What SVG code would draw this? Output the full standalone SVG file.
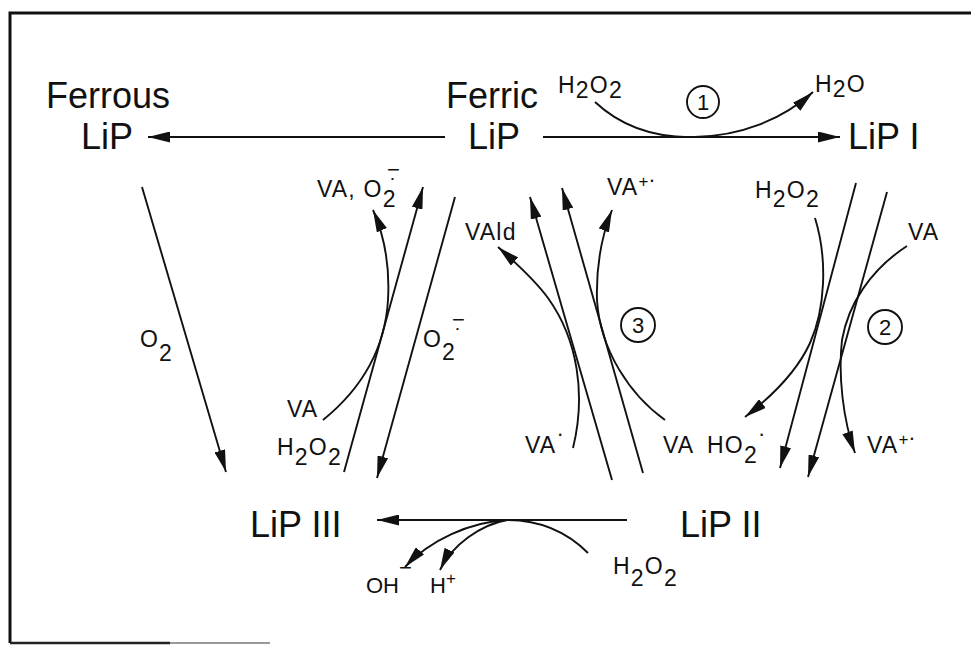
<svg xmlns="http://www.w3.org/2000/svg" width="971" height="645" viewBox="0 0 971 645">
<defs>
<style>
text{font-family:"Liberation Sans",Arial,sans-serif;fill:#111}
.big{font-size:36px}
.sm{font-size:23px;letter-spacing:1.2px}
.sup{font-size:17px;letter-spacing:0}
.rad{font-size:22px;letter-spacing:0}
.c{stroke:#111;stroke-width:1.9;fill:none}
.num{font-size:22px;text-anchor:middle}
</style>
<marker id="ah" viewBox="0 0 22 11" refX="22" refY="5.5" markerWidth="22" markerHeight="11" markerUnits="userSpaceOnUse" orient="auto"><path d="M0,0 L22,5.5 L0,11 z" fill="#111"/></marker>
</defs>
<rect width="971" height="645" fill="#fff"/>
<g id="frame" fill="none">
<path d="M10,643 V13 H971" stroke="#111" stroke-width="3"/>
<path d="M10,643 H170" stroke="#222" stroke-width="2.5"/>
<path d="M170,643 H270" stroke="#999" stroke-width="2"/>
</g>
<g id="ferrous"><text class="big" x="108" y="108" text-anchor="middle">Ferrous</text><text class="big" x="107" y="149" text-anchor="middle">LiP</text></g>
<g id="ferric"><text class="big" x="492" y="108" text-anchor="middle">Ferric</text><text class="big" x="494" y="149" text-anchor="middle">LiP</text></g>
<g id="lip1"><text class="big" x="848" y="149">LiP I</text></g>
<g id="lip2"><text class="big" x="680" y="537">LiP II</text></g>
<g id="lip3"><text class="big" x="250" y="537">LiP III</text></g>
<g id="connectors">
<line class="c" x1="445" y1="137" x2="148" y2="137" marker-end="url(#ah)" stroke-width="2.1"/>
<line class="c" x1="543" y1="137" x2="840" y2="137" marker-end="url(#ah)" stroke-width="2.1"/>
<path class="c" d="M595,102 C625,130 660,138 695,137 C740,136 782,120 813,92" marker-end="url(#ah)"/>
<line class="c" x1="142" y1="187" x2="226" y2="472" marker-end="url(#ah)"/>
<line class="c" x1="344" y1="472" x2="423" y2="187" marker-end="url(#ah)"/>
<line class="c" x1="455" y1="197" x2="377" y2="478" marker-end="url(#ah)"/>
<path class="c" d="M323,420 C360,390 385,350 388,300 C390,265 384,235 373,210" marker-end="url(#ah)"/>
<line class="c" x1="612" y1="480" x2="530" y2="197" marker-end="url(#ah)"/>
<line class="c" x1="643" y1="473" x2="562" y2="188" marker-end="url(#ah)"/>
<path class="c" d="M573,448 C586,395 578,340 548,298 C535,280 515,262 498,247" marker-end="url(#ah)"/>
<path class="c" d="M665,420 C630,395 600,350 597,300 C596,265 602,235 612,210" marker-end="url(#ah)"/>
<line class="c" x1="856" y1="183" x2="780" y2="468" marker-end="url(#ah)"/>
<line class="c" x1="887" y1="192" x2="808" y2="477" marker-end="url(#ah)"/>
<path class="c" d="M815,218 C828,260 825,310 810,343 C800,365 780,390 745,417" marker-end="url(#ah)"/>
<path class="c" d="M907,246 C870,270 848,305 842,340 C838,375 843,420 855,453" marker-end="url(#ah)"/>
<line class="c" x1="627" y1="520" x2="377" y2="520" marker-end="url(#ah)" stroke-width="2.1"/>
<path class="c" d="M588,553 C570,535 545,520 507,520"/>
<path class="c" d="M507,520 C470,522 430,540 405,567" marker-end="url(#ah)"/>
<path class="c" d="M507,520 C480,525 452,545 440,570" marker-end="url(#ah)"/>
</g>
<g id="labels">
<text class="sm" x="558" y="93">H<tspan dy="5">2</tspan><tspan dy="-5">O</tspan><tspan dy="5">2</tspan></text>
<text class="sm" x="815" y="92">H<tspan dy="5">2</tspan><tspan dy="-5">O</tspan></text>
<g id="n1"><circle cx="703" cy="102" r="16" class="c" stroke-width="1.6"/><text class="num" x="703" y="110">1</text></g>
<text class="sm" x="140" y="347">O<tspan dy="14">2</tspan></text>
<text class="sm" x="317" y="197">VA, O<tspan dy="10">2</tspan><tspan class="rad" x="387" y="177">−̣</tspan></text>
<text class="sm" x="423" y="347">O<tspan dy="13">2</tspan><tspan class="rad" x="452" y="327">−̣</tspan></text>
<text class="sm" x="287" y="417">VA</text>
<text class="sm" x="277" y="455">H<tspan dy="10">2</tspan><tspan dy="-10">O</tspan><tspan dy="10">2</tspan></text>
<text class="sm" x="607" y="195">VA<tspan class="sup" dy="-8">+</tspan><tspan class="rad">·</tspan></text>
<text class="sm" x="465" y="240">VAld</text>
<g id="n3"><circle cx="638" cy="325" r="17" class="c" stroke-width="1.6"/><text class="num" x="638" y="333">3</text></g>
<text class="sm" x="525" y="453">VA<tspan class="rad" dy="-12">·</tspan></text>
<text class="sm" x="663" y="453">VA</text>
<text class="sm" x="755" y="198">H<tspan dy="9">2</tspan><tspan dy="-9">O</tspan><tspan dy="9">2</tspan></text>
<text class="sm" x="908" y="240">VA</text>
<g id="n2"><circle cx="885" cy="327" r="17" class="c" stroke-width="1.6"/><text class="num" x="885" y="335">2</text></g>
<text class="sm" x="707" y="453">HO<tspan dy="10">2</tspan><tspan class="rad" dy="-22">·</tspan></text>
<text class="sm" x="867" y="453">VA<tspan class="sup" dy="-8">+</tspan><tspan class="rad">·</tspan></text>
<text class="sm" x="366" y="593" style="font-size:22px;letter-spacing:0">OH<tspan class="rad" dy="-18">−</tspan></text>
<text class="sm" x="430" y="593" style="font-size:22px;letter-spacing:0">H<tspan class="sup" dy="-9">+</tspan></text>
<text class="sm" x="613" y="574">H<tspan dy="12">2</tspan><tspan dy="-12">O</tspan><tspan dy="12">2</tspan></text>
</g>
</svg>
